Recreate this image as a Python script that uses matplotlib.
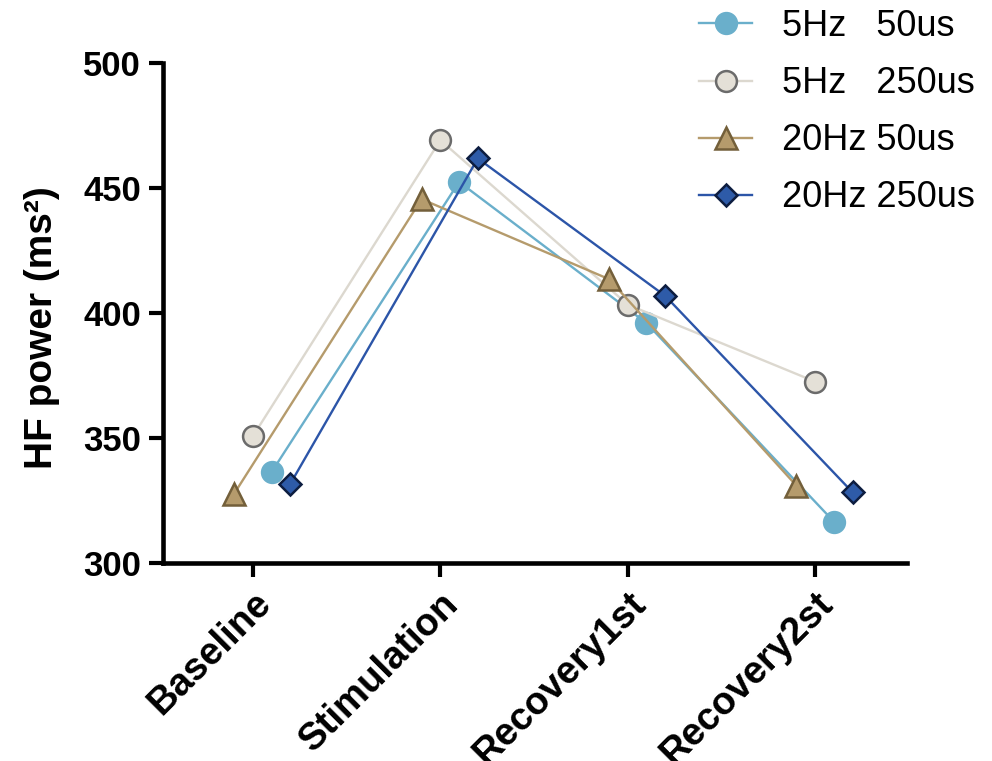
import numpy as np
import matplotlib.pyplot as plt

plt.rcParams['font.family'] = ['Liberation Sans', 'DejaVu Sans']

categories = ["Baseline", "Stimulation", "Recovery1st", "Recovery2st"]
labels = ["5Hz   50us", "5Hz   250us", "20Hz 50us", "20Hz 250us"]
hz5_us50 = [336.5, 452.5, 396, 316.6]
hz5_us250 = [350.8, 469.2, 403.4, 372.6]
hz20_us50 = [327.8, 445.6, 413.6, 331]
hz20_us250 = [331.8, 461.9, 406.9, 328.3]

series = [hz5_us50, hz5_us250, hz20_us50, hz20_us250]
offsets = [0.1, 0.0, -0.1, 0.2]
line_colors = ["#6aafcb", "#dcd8cf", "#b59b6c", "#2c55a8"]
face_colors = ["#6aafcb", "#e4e0d7", "#b59b6c", "#2e5ba8"]
edge_colors = ["#6aafcb", "#6b6b6b", "#735f3a", "#0d1d40"]
markers = ["o", "o", "^", "D"]
msizes = [15, 15, 16, 11]

fig = plt.figure(figsize=(9.92, 7.61), dpi=100)
ax = fig.add_axes([0.1643, 0.260, 0.750, 0.657])

x = np.arange(len(categories))
for i, vals in enumerate(series):
    ax.plot(x + offsets[i], vals, color=line_colors[i], lw=1.7,
            marker=markers[i], ms=msizes[i], mfc=face_colors[i],
            mec=edge_colors[i], mew=1.8, label=labels[i], clip_on=False)

ax.set_xlim(-0.48, 3.49)
ax.set_ylim(300, 500)
ax.set_yticks([300, 350, 400, 450, 500])
ax.set_xticks(x)
ax.set_xticklabels(categories, rotation=45, ha="right", va="top",
                   rotation_mode="anchor", fontsize=27.5, fontweight="bold")
for t in ax.get_yticklabels():
    t.set_fontsize(25)
    t.set_fontweight("bold")
ax.set_ylabel("HF power (ms²)", fontsize=28, fontweight="bold")
ax.yaxis.set_label_coords(-0.138, 0.472)

for s in ["top", "right"]:
    ax.spines[s].set_visible(False)
for s in ["left", "bottom"]:
    ax.spines[s].set_linewidth(3.3)
ax.spines["left"].set_bounds(300, 500)
ax.tick_params(axis="both", length=10, width=3)
ax.tick_params(axis="y", pad=6)
ax.tick_params(axis="x", pad=6)

fig.legend(loc="upper left", bbox_to_anchor=(0.705, 0.988), frameon=False,
           fontsize=26, handlelength=1.45, handletextpad=0.85, labelspacing=0.61,
           borderpad=0, borderaxespad=0)

fig.savefig("out.png", dpi=100)
plt.close(fig)
